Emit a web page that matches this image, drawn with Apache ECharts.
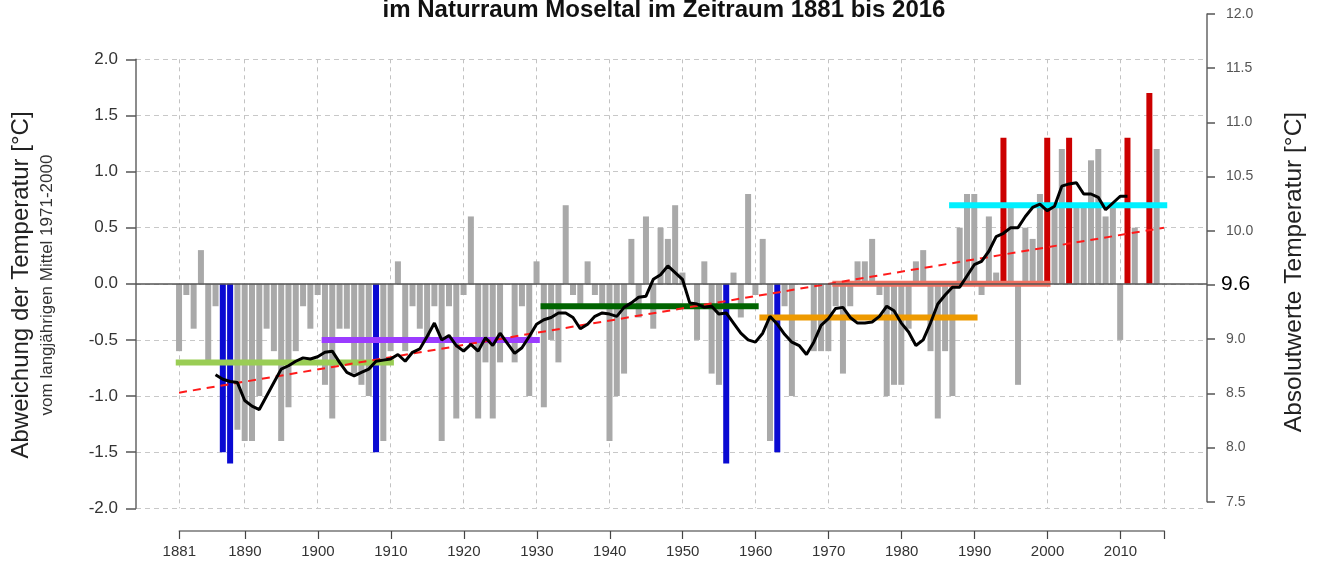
<!DOCTYPE html>
<html>
<head>
<meta charset="utf-8">
<script src="https://cdn.jsdelivr.net/npm/echarts@6/dist/echarts.min.js"></script>
<style>
  html, body { margin: 0; padding: 0; background: #fff; }
  #chart { width: 1317px; height: 573px; }
</style>
</head>
<body>
<div id="chart"></div>
<script>
// Jahresmittel der Lufttemperatur, Abweichung vom Mittel 1971-2000 (9.6 °C)
const firstYear = 1881;
const lastYear = 2016;
const years = Array.from({ length: lastYear - firstYear + 1 }, (_, i) => firstYear + i);

const anomaly = [
  -0.6, -0.1, -0.4, 0.3, -0.7, -0.2, -1.5, -1.6, -1.3, -1.4,   // 1881-1890
  -1.4, -1.0, -0.4, -0.6, -1.4, -1.1, -0.6, -0.2, -0.4, -0.1,   // 1891-1900
  -0.9, -1.2, -0.4, -0.4, -0.8, -0.9, -1.0, -1.5, -1.4, -0.6,   // 1901-1910
  0.2, -0.6, -0.2, -0.4, -0.5, -0.2, -1.4, -0.2, -1.2, -0.1,    // 1911-1920
  0.6, -1.2, -0.7, -1.2, -0.7, 0.0, -0.7, -0.2, -1.0, 0.2,      // 1921-1930
  -1.1, -0.5, -0.7, 0.7, -0.1, -0.2, 0.2, -0.1, -0.2, -1.4,     // 1931-1940
  -1.0, -0.8, 0.4, -0.3, 0.6, -0.4, 0.5, 0.4, 0.7, 0.1,         // 1941-1950
  0.0, -0.5, 0.2, -0.8, -0.9, -1.6, 0.1, -0.3, 0.8, -0.1,       // 1951-1960
  0.4, -1.4, -1.5, -0.2, -1.0, 0.0, 0.0, -0.6, -0.6, -0.6,      // 1961-1970
  -0.2, -0.8, -0.2, 0.2, 0.2, 0.4, -0.1, -1.0, -0.9, -0.9,      // 1971-1980
  -0.4, 0.2, 0.3, -0.6, -1.2, -0.6, -1.0, 0.5, 0.8, 0.8,        // 1981-1990
  -0.1, 0.6, 0.1, 1.3, 0.7, -0.9, 0.5, 0.4, 0.8, 1.3,           // 1991-2000
  0.7, 1.2, 1.3, 0.7, 0.7, 1.1, 1.2, 0.6, 0.7, -0.5,            // 2001-2010
  1.3, 0.5, 0.0, 1.7, 1.2, null                                 // 2011-2016
];

// die fuenf kaeltesten und waermsten Jahre
const coldestYears = [1887, 1888, 1908, 1956, 1963];
const warmestYears = [1994, 2000, 2003, 2011, 2014];

// gleitendes Mittel, 1886-2011
const runningMeanStart = 1886;
const runningMean = [
  -0.81, -0.85, -0.87, -0.88, -1.04,                            // 1886-1890
  -1.09, -1.12, -1.00, -0.88, -0.76, -0.73, -0.69, -0.66, -0.67, -0.65, // 1891-1900
  -0.61, -0.60, -0.70, -0.79, -0.82, -0.79, -0.76, -0.69, -0.68, -0.67, // 1901-1910
  -0.63, -0.69, -0.61, -0.58, -0.47, -0.35, -0.50, -0.46, -0.55, -0.60, // 1911-1920
  -0.54, -0.60, -0.48, -0.55, -0.44, -0.53, -0.62, -0.57, -0.47, -0.36, // 1921-1930
  -0.32, -0.30, -0.26, -0.26, -0.30, -0.40, -0.36, -0.29, -0.26, -0.27, // 1931-1940
  -0.29, -0.21, -0.17, -0.12, -0.11, 0.04, 0.08, 0.16, 0.10, 0.04,      // 1941-1950
  -0.17, -0.18, -0.21, -0.20, -0.27, -0.26, -0.35, -0.44, -0.50, -0.52, // 1951-1960
  -0.44, -0.29, -0.36, -0.45, -0.52, -0.55, -0.63, -0.52, -0.37, -0.31, // 1961-1970
  -0.22, -0.21, -0.30, -0.35, -0.35, -0.34, -0.29, -0.20, -0.24, -0.35, // 1971-1980
  -0.43, -0.55, -0.50, -0.35, -0.18, -0.10, -0.03, -0.03, 0.07, 0.17,   // 1981-1990
  0.20, 0.29, 0.42, 0.45, 0.50, 0.50, 0.60, 0.68, 0.71, 0.65,           // 1991-2000
  0.69, 0.87, 0.89, 0.90, 0.80, 0.80, 0.77, 0.66, 0.72, 0.78,           // 2001-2010
  0.78                                                                  // 2011
];

// 30-jaehrige Mittelwerte
const periodStart = [1881, 1901, 1931, 1961, 1971, 1987];
const periodEnd   = [1910, 1930, 1960, 1990, 2000, 2016];
const periodMean  = [-0.7, -0.5, -0.2, -0.3, 0.0, 0.7];

// linearer Trend 1881-2016
const trendYears = [1881, 2016];
const trendValues = [-0.97, 0.50];

// Achsen
const tickYears  = [1881, 1890, 1900, 1910, 1920, 1930, 1940, 1950, 1960, 1970, 1980, 1990, 2000, 2010, 2016];
const labelYears = [1881, 1890, 1900, 1910, 1920, 1930, 1940, 1950, 1960, 1970, 1980, 1990, 2000, 2010];
const referenceMean = '9.6';

// ---- styles ----
const periodColors = ['#9acd55', '#9b3cff', '#006400', '#ee9a00', '#f07262', '#00f0ff'];
const barGray = '#a9a9a9', barBlue = '#0a0ad2', barRed = '#cc0000';
const FONT = '"Liberation Sans", Arial, sans-serif';
const halfBar = 0.45;          // Balkenbreite in Jahren / 2
const yearPad = 5.9;           // Rand links/rechts des Diagramms in Jahren

const chart = echarts.init(document.getElementById('chart'), null, { renderer: 'canvas' });

const barData = years.map((y, i) => {
  const v = anomaly[i];
  let color = barGray;
  if (coldestYears.includes(y)) color = barBlue;
  if (warmestYears.includes(y)) color = barRed;
  return { value: [y, v], itemStyle: { color } };
});

const periodSeries = periodStart.map((s, i) => ({
  type: 'line',
  xAxisIndex: 0, yAxisIndex: 0,
  data: [[s - halfBar, periodMean[i]], [periodEnd[i] + halfBar, periodMean[i]]],
  symbol: 'none',
  silent: true,
  lineStyle: { color: periodColors[i], width: 6, cap: 'butt' },
  z: 3
}));

const option = {
  animation: false,
  backgroundColor: '#fff',
  textStyle: { fontFamily: FONT },
  grid: [
    { left: 136, right: 110, top: 59.3, bottom: 64.7 },
    { left: 136, right: 110, top: 14, bottom: 71.3 },
    { left: 179.3, right: 152.7, top: 530, bottom: 42 }
  ],
  xAxis: [
    {
      gridIndex: 0, type: 'value',
      min: firstYear - yearPad, max: lastYear + yearPad,
      axisLine: { show: false, onZero: false },
      axisTick: { show: false, customValues: tickYears },
      axisLabel: { show: false, customValues: tickYears },
      splitLine: { show: true, lineStyle: { color: '#c2c2c2', type: [4, 4], width: 1 } }
    },
    { gridIndex: 1, type: 'value', min: 0, max: 1, show: false },
    {
      gridIndex: 2, type: 'value', min: firstYear, max: lastYear,
      axisLine: { show: true, onZero: false, lineStyle: { color: '#777', width: 1.5 } },
      axisTick: { show: true, customValues: tickYears, length: 8, lineStyle: { color: '#444', width: 1.2 } },
      axisLabel: { customValues: labelYears, formatter: v => String(v), fontSize: 15, color: '#333', margin: 13, fontFamily: FONT },
      splitLine: { show: false }
    }
  ],
  yAxis: [
    {
      gridIndex: 0, type: 'value', min: -2, max: 2, interval: 0.5,
      axisLine: { show: true, onZero: false, lineStyle: { color: '#666', width: 1.5 } },
      axisTick: { show: true, length: 10, lineStyle: { color: '#555', width: 1.5 } },
      axisLabel: { formatter: v => v.toFixed(1), fontSize: 17, color: '#333', margin: 18, fontFamily: FONT },
      splitLine: { show: true, lineStyle: { color: '#c8c8c8', type: [5, 4], width: 1 } }
    },
    {
      gridIndex: 1, type: 'value', position: 'right', min: 7.5, max: 12, interval: 0.5,
      axisLine: { show: true, onZero: false, lineStyle: { color: '#666', width: 1.5 } },
      axisTick: { show: true, length: 8, lineStyle: { color: '#555', width: 1.5 } },
      axisLabel: { formatter: v => (v === 9.5 ? '' : v.toFixed(1)), fontSize: 14, color: '#555', margin: 19, fontFamily: FONT },
      splitLine: { show: false }
    },
    { gridIndex: 2, type: 'value', show: false }
  ],
  graphic: [
    {
      type: 'text', x: 664, y: 10,
      style: { text: 'im Naturraum Moseltal im Zeitraum 1881 bis 2016', font: 'bold 24px ' + FONT, fill: '#111', align: 'center', verticalAlign: 'middle' }
    },
    {
      type: 'text', x: 21, y: 285, rotation: Math.PI / 2,
      style: { text: 'Abweichung der Temperatur [°C]', font: '24px ' + FONT, fill: '#222', align: 'center', verticalAlign: 'middle' }
    },
    {
      type: 'text', x: 47, y: 285, rotation: Math.PI / 2,
      style: { text: 'vom langjährigen Mittel 1971-2000', font: '17px ' + FONT, fill: '#333', align: 'center', verticalAlign: 'middle' }
    },
    {
      type: 'text', x: 1294, y: 272, rotation: Math.PI / 2,
      style: { text: 'Absolutwerte Temperatur [°C]', font: '24.5px ' + FONT, fill: '#222', align: 'center', verticalAlign: 'middle' }
    }
  ],
  series: [
    {
      name: 'Abweichung',
      type: 'bar',
      xAxisIndex: 0, yAxisIndex: 0,
      barWidth: 6,
      data: barData,
      z: 2,
      markLine: {
        silent: true,
        symbol: 'none',
        lineStyle: { color: '#555', type: 'solid', width: 1.5 },
        label: { show: true, position: 'end', distance: 14, formatter: referenceMean, fontSize: 21, color: '#000', fontFamily: FONT },
        data: [{ yAxis: 0 }]
      }
    },
    ...periodSeries,
    {
      name: 'Trend',
      type: 'line',
      xAxisIndex: 0, yAxisIndex: 0,
      data: trendYears.map((y, i) => [y, trendValues[i]]),
      symbol: 'none', silent: true,
      lineStyle: { color: '#ff1a1a', width: 2, type: [8, 6] },
      z: 4
    },
    {
      name: 'gleitendes Mittel',
      type: 'line',
      xAxisIndex: 0, yAxisIndex: 0,
      data: runningMean.map((v, i) => [runningMeanStart + i, v]),
      symbol: 'none', silent: true,
      lineStyle: { color: '#000', width: 3 },
      z: 5
    }
  ]
};

chart.setOption(option);
</script>
</body>
</html>
